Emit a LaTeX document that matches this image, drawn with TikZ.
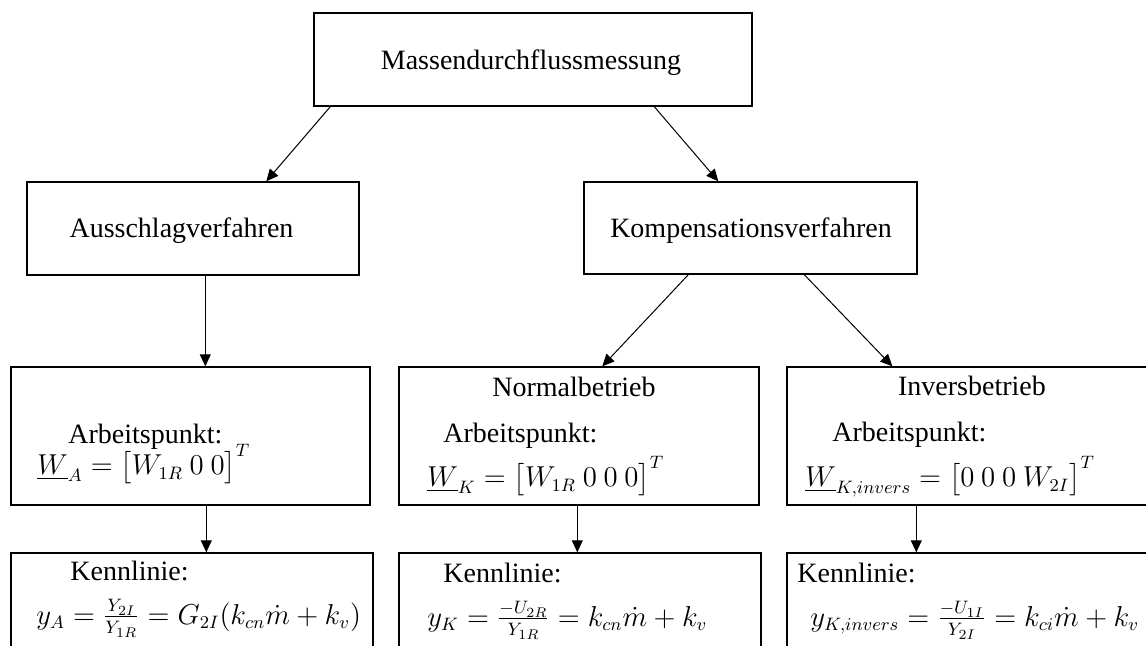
\documentclass[tikz,border=0pt]{standalone}
\usepackage{amsmath,amssymb}
\usepackage[no-math]{fontspec}
\setmainfont{Liberation Serif}
\usetikzlibrary{arrows.meta,positioning,calc}

\tikzset{
  block/.style={draw,line width=0.7pt,rectangle,inner sep=0pt},
  lbl/.style={inner sep=0pt,font=\fontsize{14}{17}\selectfont},
  formel/.style={inner sep=0pt,font=\fontsize{13.5}{16}\selectfont},
  pfeil/.style={-{Triangle[length=6pt,width=5.5pt]},line width=0.5pt},
}

\begin{document}
\begin{tikzpicture}[x=0.5pt,y=-0.5pt]
  \useasboundingbox (0,0) rectangle (1146,646); % Bildausschnitt wie im Original
  \clip (0,0) rectangle (1146,646); % rechte und untere Kaesten laufen aus dem Bild

  \node[block,minimum width=219pt,minimum height=46.5pt] (mess) at (533,59.5) {}; % oberster Kasten
  \node[block,minimum width=166pt,minimum height=46.5pt] (aus) at (193,228.5) {};
  \node[block,minimum width=166.5pt,minimum height=46pt] (komp) at (750.5,228) {};
  \node[block,minimum width=179.5pt,minimum height=69pt] (apA) at (190.5,436) {}; % Arbeitspunkte
  \node[block,minimum width=180pt,minimum height=69pt] (apN) at (579,436) {};
  \node[block,minimum width=185pt,minimum height=69pt] (apI) at (972,436) {};
  \node[block,minimum width=181pt,minimum height=69pt] (klA) at (192,622) {}; % Kennlinien
  \node[block,minimum width=181pt,minimum height=69pt] (klN) at (580,622) {};
  \node[block,minimum width=185pt,minimum height=69pt] (klI) at (972,622) {};

  \node[lbl,anchor=base] (tMess) at (531,70) {Massendurchflussmessung};
  \node[lbl,anchor=base] (tAus) at (181.5,238) {Ausschlagverfahren};
  \node[lbl,anchor=base] (tKomp) at (751,238) {Kompensationsverfahren};
  \node[lbl,anchor=base] (tNormal) at (574,397) {Normalbetrieb};
  \node[lbl,anchor=base] (tInvers) at (972,396) {Inversbetrieb};
  \node[lbl,anchor=base west] (tApA) at (68,444) {Arbeitspunkt:};
  \node[lbl,anchor=base west] (tApN) at (443,443) {Arbeitspunkt:};
  \node[lbl,anchor=base west] (tApI) at (832,442) {Arbeitspunkt:};
  \node[formel,anchor=base west] (fApA) at (37,475) {$\underline{W}_A = \bigl[W_{1R}\ 0\ 0\bigr]^T$};
  \node[formel,anchor=base west] (fApN) at (427,487) {$\underline{W}_K = \bigl[W_{1R}\ 0\ 0\ 0\bigr]^T$};
  \node[formel,anchor=base west] (fApI) at (805,487) {$\underline{W}_{K,invers} = \bigl[0\ 0\ 0\ W_{2I}\bigr]^T$};
  \node[lbl,anchor=base west] (tKlA) at (70,581) {Kennlinie:};
  \node[lbl,anchor=base west] (tKlN) at (443,582) {Kennlinie:};
  \node[lbl,anchor=base west] (tKlI) at (797,582) {Kennlinie:};
  \node[formel,anchor=base west] (fKlA) at (36,624) {$y_A = \frac{Y_{2I}}{Y_{1R}} = G_{2I}(k_{cn}\dot{m} + k_v)$};
  \node[formel,anchor=base west] (fKlN) at (427,626) {$y_K = \frac{-U_{2R}}{Y_{1R}} = k_{cn}\dot{m} + k_v$};
  \node[formel,anchor=base west] (fKlI) at (810,626) {$y_{K,invers} = \frac{-U_{1I}}{Y_{2I}} = k_{ci}\dot{m} + k_v$};

  \draw[pfeil] ($(mess.south west)+(17,0)$) -- ($(aus.north west)+(240,0)$); % schraeg nach links
  \draw[pfeil] ($(mess.south west)+(341,0)$) -- ($(komp.north west)+(135,0)$); % schraeg nach rechts
  \draw[pfeil] ($(aus.south west)+(179,0)$) -- ($(apA.north west)+(195,0)$);
  \draw[pfeil] ($(komp.south west)+(105,0)$) -- ($(apN.north west)+(204,0)$);
  \draw[pfeil] ($(komp.south west)+(221,0)$) -- ($(apI.north west)+(106,0)$);
  \draw[pfeil] ($(apA.south west)+(196,0)$) -- ($(klA.north west)+(196,0)$); % senkrecht nach unten
  \draw[pfeil] ($(apN.south west)+(179,0)$) -- ($(klN.north west)+(179,0)$);
  \draw[pfeil] ($(apI.south west)+(130,0)$) -- ($(klI.north west)+(130,0)$);
\end{tikzpicture}
\end{document}
